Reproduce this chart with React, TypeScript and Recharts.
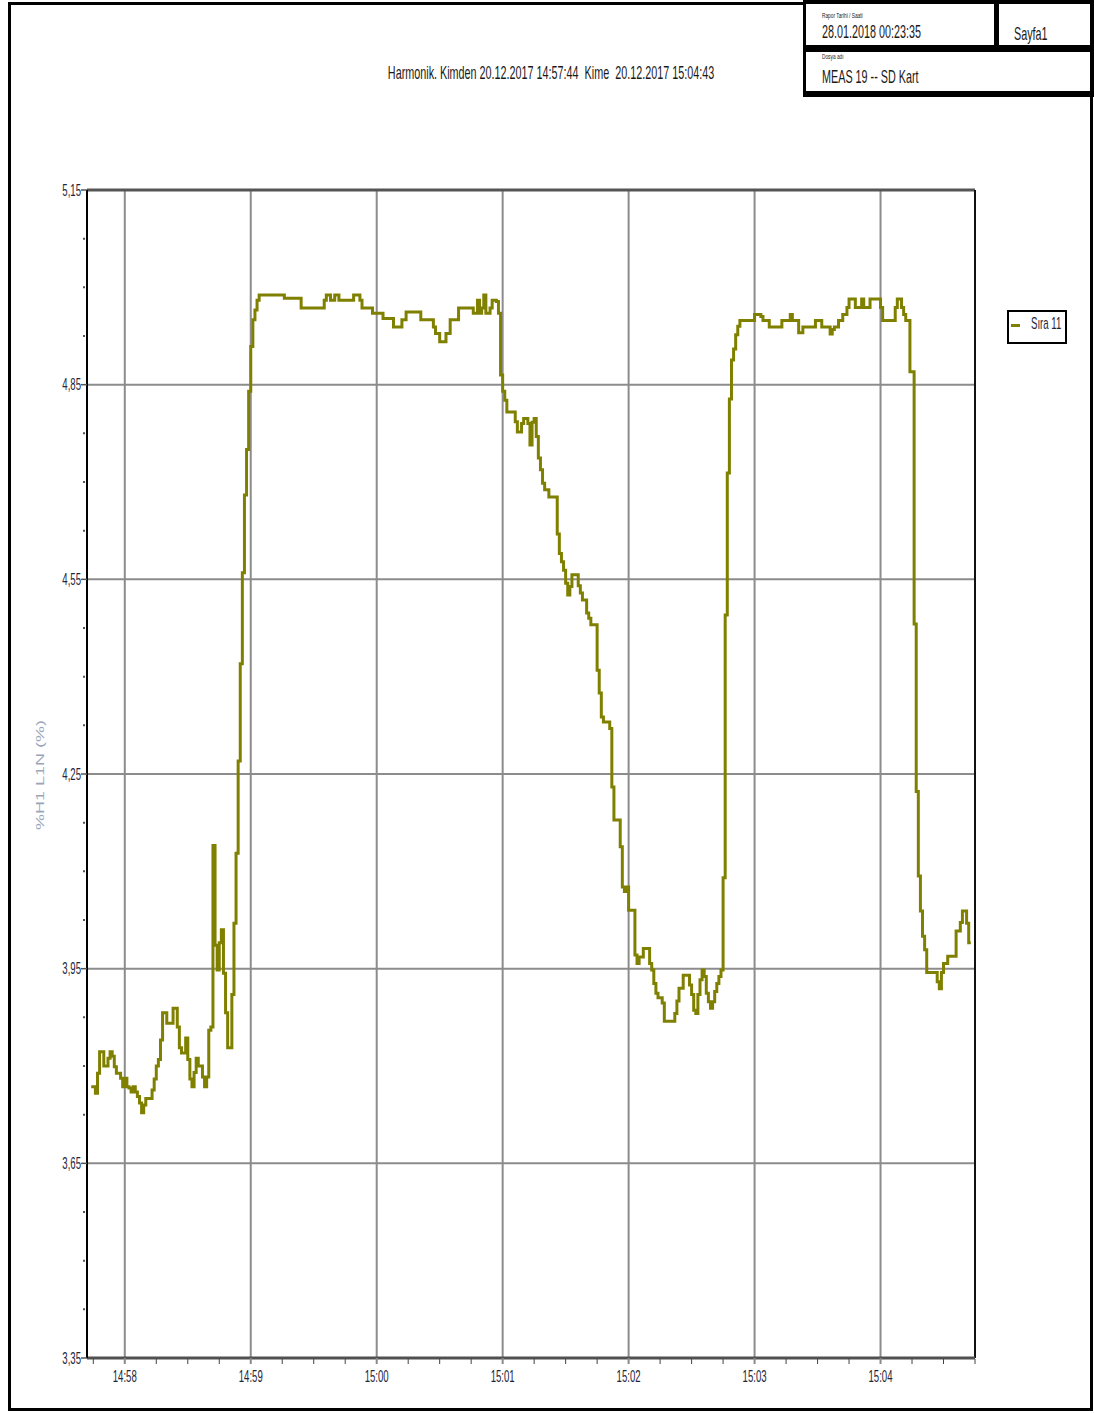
import React from "react";
import { LineChart, Line, XAxis, YAxis, CartesianGrid, ReferenceLine } from "recharts";

// Harmonic %H1 L1N readings, 20.12.2017 (step data)
const times = [
  "14:57:44", "14:57:46", "14:57:47", "14:57:48", "14:57:50", "14:57:52", "14:57:53", "14:57:54",
  "14:57:55", "14:57:56", "14:57:58", "14:57:59", "14:58:00", "14:58:01", "14:58:02", "14:58:03",
  "14:58:04", "14:58:05", "14:58:06", "14:58:07", "14:58:08", "14:58:09", "14:58:10", "14:58:13",
  "14:58:14", "14:58:15", "14:58:16", "14:58:17", "14:58:18", "14:58:20", "14:58:23", "14:58:25",
  "14:58:26", "14:58:27", "14:58:29", "14:58:30", "14:58:31", "14:58:32", "14:58:33", "14:58:34",
  "14:58:35", "14:58:37", "14:58:38", "14:58:39", "14:58:40", "14:58:41", "14:58:42", "14:58:43",
  "14:58:44", "14:58:45", "14:58:46", "14:58:47", "14:58:48", "14:58:49", "14:58:51", "14:58:52",
  "14:58:53", "14:58:54", "14:58:55", "14:58:56", "14:58:57", "14:58:58", "14:58:59", "14:59:00",
  "14:59:01", "14:59:02", "14:59:03", "14:59:04", "14:59:16", "14:59:24", "14:59:35", "14:59:36",
  "14:59:38", "14:59:40", "14:59:42", "14:59:49", "14:59:52", "14:59:53", "14:59:58", "15:00:03",
  "15:00:08", "15:00:12", "15:00:14", "15:00:21", "15:00:27", "15:00:28", "15:00:30", "15:00:33",
  "15:00:35", "15:00:39", "15:00:46", "15:00:48", "15:00:49", "15:00:50", "15:00:51", "15:00:52",
  "15:00:54", "15:00:55", "15:00:57", "15:00:58", "15:00:59", "15:01:00", "15:01:01", "15:01:02",
  "15:01:06", "15:01:07", "15:01:09", "15:01:10", "15:01:12", "15:01:13", "15:01:14", "15:01:15",
  "15:01:16", "15:01:17", "15:01:18", "15:01:19", "15:01:20", "15:01:22", "15:01:26", "15:01:27",
  "15:01:28", "15:01:29", "15:01:30", "15:01:31", "15:01:32", "15:01:33", "15:01:36", "15:01:37",
  "15:01:38", "15:01:40", "15:01:41", "15:01:42", "15:01:45", "15:01:46", "15:01:47", "15:01:48",
  "15:01:51", "15:01:52", "15:01:53", "15:01:56", "15:01:57", "15:01:58", "15:01:59", "15:02:00",
  "15:02:03", "15:02:04", "15:02:05", "15:02:07", "15:02:10", "15:02:11", "15:02:12", "15:02:13",
  "15:02:14", "15:02:16", "15:02:17", "15:02:22", "15:02:23", "15:02:24", "15:02:26", "15:02:29",
  "15:02:30", "15:02:31", "15:02:32", "15:02:33", "15:02:34", "15:02:35", "15:02:36", "15:02:37",
  "15:02:38", "15:02:39", "15:02:40", "15:02:41", "15:02:42", "15:02:43", "15:02:44", "15:02:45",
  "15:02:46", "15:02:47", "15:02:48", "15:02:49", "15:02:50", "15:02:51", "15:02:52", "15:02:53",
  "15:03:00", "15:03:03", "15:03:04", "15:03:07", "15:03:13", "15:03:17", "15:03:18", "15:03:21",
  "15:03:23", "15:03:29", "15:03:32", "15:03:36", "15:03:37", "15:03:38", "15:03:40", "15:03:42",
  "15:03:44", "15:03:45", "15:03:48", "15:03:51", "15:03:52", "15:03:55", "15:04:00", "15:04:01",
  "15:04:07", "15:04:08", "15:04:10", "15:04:11", "15:04:12", "15:04:14", "15:04:16", "15:04:17",
  "15:04:18", "15:04:19", "15:04:20", "15:04:21", "15:04:22", "15:04:27", "15:04:28", "15:04:29",
  "15:04:30", "15:04:32", "15:04:36", "15:04:38", "15:04:39", "15:04:41", "15:04:42", "15:04:43",
];

const values = [
  3.768, 3.758, 3.789, 3.822, 3.8, 3.812, 3.822, 3.815,
  3.799, 3.789, 3.781, 3.768, 3.781, 3.768, 3.766, 3.76,
  3.768, 3.76, 3.753, 3.743, 3.728, 3.74, 3.75, 3.763,
  3.78, 3.8, 3.81, 3.84, 3.882, 3.866, 3.889, 3.86,
  3.828, 3.82, 3.843, 3.81, 3.78, 3.768, 3.79, 3.812,
  3.8, 3.783, 3.768, 3.783, 3.855, 3.86, 4.14, 3.986,
  3.948, 3.99, 4.01, 3.943, 3.882, 3.828, 3.91, 4.02,
  4.128, 4.27, 4.42, 4.56, 4.68, 4.75, 4.84, 4.909,
  4.95, 4.965, 4.98, 4.988, 4.983, 4.968, 4.98, 4.988,
  4.98, 4.988, 4.98, 4.988, 4.98, 4.968, 4.96, 4.952,
  4.939, 4.95, 4.962, 4.95, 4.939, 4.929, 4.916, 4.929,
  4.95, 4.968, 4.96, 4.98, 4.96, 4.968, 4.988, 4.96,
  4.968, 4.98, 4.978, 4.96, 4.865, 4.84, 4.826, 4.808,
  4.793, 4.777, 4.79, 4.798, 4.79, 4.757, 4.792, 4.798,
  4.77, 4.737, 4.719, 4.698, 4.688, 4.677, 4.62, 4.59,
  4.577, 4.564, 4.544, 4.526, 4.539, 4.557, 4.54, 4.529,
  4.518, 4.498, 4.49, 4.48, 4.41, 4.375, 4.338, 4.33,
  4.32, 4.23, 4.179, 4.138, 4.076, 4.069, 4.076, 4.04,
  3.971, 3.958, 3.968, 3.981, 3.958, 3.948, 3.927, 3.912,
  3.905, 3.897, 3.869, 3.881, 3.9, 3.92, 3.94, 3.925,
  3.91, 3.886, 3.881, 3.91, 3.933, 3.948, 3.938, 3.912,
  3.899, 3.889, 3.899, 3.915, 3.927, 3.938, 3.948, 4.09,
  4.495, 4.714, 4.828, 4.888, 4.905, 4.927, 4.94, 4.949,
  4.958, 4.955, 4.949, 4.939, 4.949, 4.958, 4.949, 4.93,
  4.939, 4.949, 4.939, 4.928, 4.935, 4.939, 4.949, 4.958,
  4.969, 4.982, 4.969, 4.982, 4.969, 4.982, 4.969, 4.949,
  4.969, 4.982, 4.969, 4.958, 4.949, 4.87, 4.481, 4.223,
  4.093, 4.039, 4.0, 3.979, 3.944, 3.93, 3.919, 3.944,
  3.958, 3.969, 4.008, 4.021, 4.039, 4.02, 3.99, 3.99,
];

const xTickLabels = ["14:58", "14:59", "15:00", "15:01", "15:02", "15:03", "15:04"];
const yTickLabels = ["3,35", "3,65", "3,95", "4,25", "4,55", "4,85", "5,15"];

const toSec = (s: string) => {
  const [h, m, sec] = s.split(":").map(Number);
  return h * 3600 + m * 60 + (sec || 0);
};

const data = times.map((t, i) => ({ t: toSec(t), v: values[i] }));

const X_MIN = toSec("14:57:42");
const X_MAX = toSec("15:04:45");
const xMajor = xTickLabels.map(toSec);
const xTicks: number[] = [];
for (let s = toSec("14:57:45"); s <= X_MAX; s += 15) xTicks.push(s);

const yMajor = yTickLabels.map((l) => parseFloat(l.replace(",", ".")));
const yTicks: number[] = [];
for (let i = 0; i <= 24; i++) yTicks.push(Math.round((3.35 + i * 0.075) * 1000) / 1000);

const FONT = "'Liberation Sans', Arial, sans-serif";
const OLIVE = "#808000";

function XTick({ x, y, payload }: any) {
  const idx = xMajor.indexOf(payload.value);
  if (idx < 0) {
    return <line x1={x} x2={x} y1={y + 1} y2={y + 6} stroke="#444" strokeWidth={1} />;
  }
  return (
    <g>
      <line x1={x} x2={x} y1={y} y2={y + 6} stroke="#8a8a8a" strokeWidth={2} />
      <text
        transform={`translate(${x},${y + 24}) scale(0.6,1)`}
        textAnchor="middle"
        fontSize={16}
        fontFamily={FONT}
        fill="#23263a"
      >
        {xTickLabels[idx]}
      </text>
    </g>
  );
}

function YTick({ x, y, payload }: any) {
  const idx = yMajor.findIndex((m) => Math.abs(m - payload.value) < 1e-6);
  if (idx < 0) {
    return <line x1={x - 4} x2={x - 2} y1={y} y2={y} stroke="#555" strokeWidth={2} />;
  }
  return (
    <g>
      <line x1={x - 6} x2={x} y1={y} y2={y} stroke="#555" strokeWidth={1.5} />
      <text
        transform={`translate(${x - 6},${y + 5.5}) scale(0.6,1)`}
        textAnchor="end"
        fontSize={16}
        fontFamily={FONT}
        fill="#23263a"
      >
        {yTickLabels[idx]}
      </text>
    </g>
  );
}

function Squeezed({ x, y, size, children, anchor = "start", fill = "#1a1a1a" }: any) {
  return (
    <text
      transform={`translate(${x},${y}) scale(0.6,1)`}
      textAnchor={anchor}
      fontSize={size}
      fontFamily={FONT}
      fill={fill}
      style={{ whiteSpace: "pre" }}
    >
      {children}
    </text>
  );
}

export default function App() {
  return (
    <div style={{ position: "absolute", left: 0, top: 0, width: 1094, height: 1413, background: "#fff" }}>
      <LineChart
        width={1094}
        height={1413}
        data={data}
        margin={{ top: 190, right: 119, bottom: 25, left: 0 }}
      >
        <CartesianGrid
          horizontalValues={yMajor}
          verticalValues={xMajor}
          stroke="#8c8c8c"
          strokeWidth={2}
        />
        <XAxis
          dataKey="t"
          type="number"
          domain={[X_MIN, X_MAX]}
          allowDataOverflow
          ticks={xTicks}
          interval={0}
          height={30}
          tickSize={0}
          tickMargin={0}
          tickLine={false}
          axisLine={{ stroke: "#505050", strokeWidth: 3 }}
          tick={(p: any) => <XTick {...p} />}
        />
        <YAxis
          type="number"
          domain={[3.35, 5.15]}
          allowDataOverflow
          ticks={yTicks}
          interval={0}
          width={87}
          tickSize={0}
          tickMargin={0}
          tickLine={false}
          axisLine={{ stroke: "#000", strokeWidth: 2 }}
          tick={(p: any) => <YTick {...p} />}
        />
        <ReferenceLine y={5.15} stroke="#555" strokeWidth={3} />
        <ReferenceLine x={X_MAX} stroke="#111" strokeWidth={2} />
        <Line
          type="stepAfter"
          dataKey="v"
          stroke={OLIVE}
          strokeWidth={3}
          dot={false}
          isAnimationActive={false}
        />
      </LineChart>

      <svg
        width={1094}
        height={1413}
        style={{ position: "absolute", left: 0, top: 0, pointerEvents: "none" }}
      >
        {/* page frame */}
        <rect x={9.5} y={3.5} width={1082} height={1406} fill="none" stroke="#000" strokeWidth={3} />

        {/* header boxes */}
        <rect x={803} y={0} width={291} height={97} fill="#000" />
        <rect x={806} y={4} width={188} height={41} fill="#fff" />
        <rect x={999} y={4} width={91} height={41} fill="#fff" />
        <rect x={806} y={52} width={284} height={39} fill="#fff" />
        <Squeezed x={822} y={18} size={8}>Rapor Tarihi / Saati</Squeezed>
        <Squeezed x={822} y={38} size={18}>28.01.2018 00:23:35</Squeezed>
        <Squeezed x={1014} y={40} size={18}>Sayfa1</Squeezed>
        <Squeezed x={822} y={59} size={8}>Dosya adı</Squeezed>
        <Squeezed x={822} y={83} size={18}>MEAS 19 -- SD Kart</Squeezed>

        {/* title */}
        <Squeezed x={551} y={79} size={18} anchor="middle">
          {"Harmonik. Kimden 20.12.2017 14:57:44  Kime  20.12.2017 15:04:43"}
        </Squeezed>

        {/* y axis title */}
        <text
          transform="translate(44,775) scale(0.6,1) rotate(-90)"
          textAnchor="middle"
          fontSize={18}
          fontFamily={FONT}
          fill="#9aa5b8"
          style={{ whiteSpace: "pre" }}
        >
          %H1 L1N (%)
        </text>

        {/* legend */}
        <rect x={1008} y={311} width={58} height={32} fill="#fff" stroke="#000" strokeWidth={2} />
        <rect x={1011} y={324} width={9} height={3} fill={OLIVE} />
        <Squeezed x={1031} y={329} size={16} fill="#23263a">Sıra 11</Squeezed>
      </svg>
    </div>
  );
}
